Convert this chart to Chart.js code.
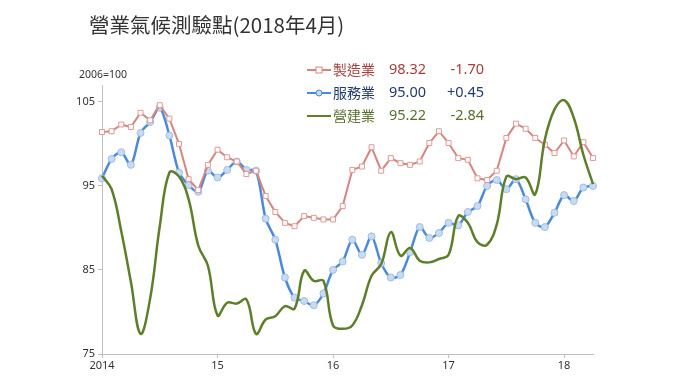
<!DOCTYPE html>
<html>
<head>
<meta charset="utf-8">
<script src="https://cdn.jsdelivr.net/npm/chart.js@4/dist/chart.umd.min.js"></script>
<style>
  html, body { margin: 0; padding: 0; background: #fff; }
  #wrap { width: 680px; height: 382px; position: relative; }
</style>
</head>
<body>
<div id="wrap"><canvas id="chart"></canvas></div>
<script>
// monthly, Jan 2014 - Apr 2018
const months = [];
for (let y = 2014; y <= 2018; y++) {
  for (let m = 1; m <= 12; m++) {
    if (y === 2018 && m > 4) break;
    months.push(y + '-' + m);
  }
}
const yearLabels = ['2014', '15', '16', '17', '18'];

const seriesNames = ['製造業', '服務業', '營建業'];
const latestValues = ['98.32', '95.00', '95.22'];
const changes = ['-1.70', '+0.45', '-2.84'];

const manufacturing = [
  101.4, 101.5, 102.3, 102.0, 103.7, 102.8, 104.6, 103.0, 100.0, 95.8, 94.5, 97.5,
  99.3, 98.4, 97.9, 96.4, 96.8, 93.8, 91.9, 90.6, 90.2, 91.4, 91.2, 91.0,
  91.0, 92.6, 96.9, 97.3, 99.6, 96.8, 98.3, 97.7, 97.5, 97.9, 100.1, 101.5,
  100.1, 98.3, 98.1, 95.9, 95.7, 96.8, 100.7, 102.4, 101.8, 100.7, 99.9, 98.9,
  100.4, 98.5, 100.2, 98.32
];
const services = [
  95.9, 98.2, 99.0, 97.5, 101.3, 102.6, 104.3, 101.0, 96.6, 95.1, 94.3, 96.8,
  96.0, 96.9, 97.9, 96.9, 96.8, 91.1, 88.6, 84.1, 81.7, 81.3, 80.8, 82.2,
  85.0, 86.0, 88.6, 86.8, 89.0, 85.8, 84.1, 84.4, 87.1, 90.1, 88.8, 89.4,
  90.6, 90.3, 91.9, 92.6, 95.0, 95.7, 94.6, 95.8, 93.4, 90.6, 90.1, 91.8,
  93.9, 93.2, 94.8, 95.00
];
const construction = [
  96.2, 94.6, 89.6, 83.6, 77.4, 81.6, 90.2, 96.6, 96.1, 93.4, 87.9, 85.5,
  79.6, 81.1, 81.0, 81.5, 77.4, 79.1, 79.5, 80.7, 80.4, 84.9, 83.7, 83.7,
  78.4, 78.0, 78.4, 80.8, 84.3, 85.7, 89.5, 86.7, 87.6, 86.1, 85.9, 86.3,
  86.8, 91.4, 90.6, 88.3, 88.0, 90.4, 96.1, 95.8, 96.0, 94.0, 100.5, 104.1,
  105.2, 103.1, 98.7, 95.22
];

const lineColors = ['#D9837E', '#4A8AD8', '#5E7F2A'];
const textColors = ['#A83E3A', '#1F3A6E', '#56702C'];

const decor = {
  id: 'decor',
  afterDraw(chart) {
    const ctx = chart.ctx;
    ctx.save();
    ctx.fillStyle = '#333';
    ctx.textBaseline = 'middle';
    ctx.textAlign = 'left';
    ctx.font = '20.5px "Noto Sans CJK TC", "Noto Sans", sans-serif';
    ctx.fillText('營業氣候測驗點(2018年4月)', 89, 25);
    ctx.font = '10.5px "Noto Sans", sans-serif';
    ctx.fillText('2006=100', 79, 75);

    const rows = [70, 93, 116];
    for (let i = 0; i < 3; i++) {
      const y = rows[i];
      ctx.strokeStyle = lineColors[i];
      ctx.lineWidth = 2;
      ctx.beginPath();
      ctx.moveTo(307, y);
      ctx.lineTo(331, y);
      ctx.stroke();
      if (i === 0) {
        ctx.fillStyle = '#fff';
        ctx.lineWidth = 1;
        ctx.fillRect(316, y - 3, 6, 6);
        ctx.strokeRect(316, y - 3, 6, 6);
      } else if (i === 1) {
        ctx.fillStyle = '#C9DBF2';
        ctx.lineWidth = 1;
        ctx.beginPath();
        ctx.arc(319, y, 3, 0, Math.PI * 2);
        ctx.fill();
        ctx.stroke();
      }
      ctx.fillStyle = textColors[i];
      ctx.textAlign = 'left';
      ctx.font = '14px "Noto Sans CJK TC", sans-serif';
      ctx.fillText(seriesNames[i], 333, y);
      ctx.font = '14.5px "Noto Sans", sans-serif';
      ctx.fillText(latestValues[i], 389, y);
      ctx.textAlign = 'right';
      ctx.fillText(changes[i], 484, y);
    }
    ctx.restore();
  }
};

new Chart(document.getElementById('chart'), {
  type: 'line',
  data: {
    labels: months,
    datasets: [
      {
        label: seriesNames[0],
        data: manufacturing,
        borderColor: lineColors[0],
        borderWidth: 2,
        tension: 0,
        pointStyle: 'rect',
        pointRadius: 3.5,
        pointBorderWidth: 1,
        pointBackgroundColor: '#fff',
        pointBorderColor: '#E09A96',
        order: 2
      },
      {
        label: seriesNames[1],
        data: services,
        borderColor: lineColors[1],
        borderWidth: 2.5,
        tension: 0.3,
        pointStyle: 'circle',
        pointRadius: 3.5,
        pointBorderWidth: 1,
        pointBackgroundColor: '#C9DBF2',
        pointBorderColor: '#9DBDE6',
        order: 3
      },
      {
        label: seriesNames[2],
        data: construction,
        borderColor: lineColors[2],
        borderWidth: 2.5,
        tension: 0.4,
        pointRadius: 0,
        order: 1
      }
    ]
  },
  options: {
    responsive: true,
    maintainAspectRatio: false,
    animation: false,
    layout: { padding: { top: 85, right: 87, left: 0, bottom: 0 } },
    plugins: {
      legend: { display: false },
      tooltip: { enabled: false }
    },
    scales: {
      x: {
        offset: false,
        border: { color: '#BFBFBF', width: 1 },
        grid: {
          drawOnChartArea: false,
          drawTicks: true,
          tickLength: 4,
          color: (c) => (c.index % 12 === 0 ? '#BFBFBF' : 'rgba(0,0,0,0)')
        },
        ticks: {
          autoSkip: false,
          maxRotation: 0,
          padding: 1,
          color: '#333',
          font: { size: 11, family: '"Noto Sans", sans-serif' },
          callback: (v, i) => (i % 12 === 0 ? yearLabels[i / 12] : '')
        },
        afterFit: (s) => { s.height = 28; }
      },
      y: {
        min: 75,
        max: 107,
        border: { color: '#BFBFBF', width: 1 },
        grid: { drawOnChartArea: false, tickLength: 4, color: '#BFBFBF' },
        afterBuildTicks: (s) => { s.ticks = [75, 85, 95, 105].map(v => ({ value: v })); },
        ticks: {
          padding: 3,
          color: '#333',
          font: { size: 11, family: '"Noto Sans", sans-serif' }
        },
        afterFit: (s) => { s.width = 102; }
      }
    }
  },
  plugins: [decor]
});
</script>
</body>
</html>
